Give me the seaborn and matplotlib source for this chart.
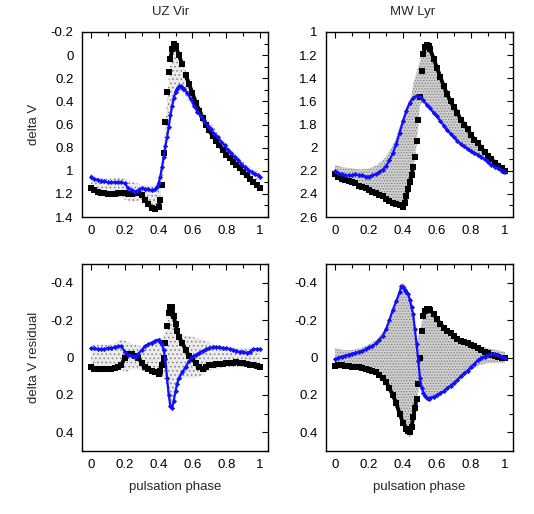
import numpy as np
import pandas as pd
import matplotlib
matplotlib.use("Agg")
import matplotlib.pyplot as plt
from matplotlib.ticker import MultipleLocator, FuncFormatter
import seaborn as sns

# ---------------- data ----------------
titles = ["UZ Vir", "MW Lyr"]
ylabels = ["delta V", "delta V residual"]
xlabel = "pulsation phase"

# UZ Vir light curve, maximum-amplitude (black) Blazhko phase
uz_black_phase = [0.00,0.02,0.04,0.06,0.08,0.10,0.12,0.14,0.16,0.18,0.20,0.22,0.24,0.26,0.28,0.30,0.32,0.34,0.36,0.38,
                  0.40,0.41,0.42,0.43,0.44,0.45,0.46,0.47,0.48,0.49,0.50,0.52,0.54,0.56,0.58,0.60,0.62,0.64,0.66,0.68,
                  0.70,0.72,0.74,0.76,0.78,0.80,0.82,0.84,0.86,0.88,0.90,0.92,0.94,0.96,0.98,1.00]
uz_black_dv = [1.15,1.17,1.18,1.19,1.19,1.20,1.20,1.20,1.19,1.19,1.19,1.20,1.20,1.19,1.19,1.21,1.25,1.29,1.32,1.33,
               1.31,1.25,1.12,0.85,0.58,0.32,0.15,0.03,-0.05,-0.10,-0.08,0.00,0.08,0.17,0.25,0.33,0.41,0.48,0.54,0.60,
               0.65,0.70,0.74,0.78,0.82,0.86,0.89,0.92,0.95,0.98,1.01,1.04,1.07,1.10,1.12,1.15]
# UZ Vir light curve, minimum-amplitude (blue) Blazhko phase
uz_blue_phase = [0.00,0.02,0.04,0.06,0.08,0.10,0.12,0.14,0.16,0.18,0.20,0.22,0.24,0.26,0.28,0.30,0.32,0.34,0.36,0.38,
                 0.39,0.40,0.41,0.42,0.43,0.44,0.45,0.46,0.47,0.48,0.49,0.50,0.51,0.52,0.53,0.54,0.55,0.57,0.59,0.61,
                 0.63,0.65,0.67,0.69,0.71,0.73,0.75,0.77,0.79,0.81,0.83,0.85,0.87,0.89,0.91,0.93,0.95,0.97,0.99,1.00]
uz_blue_dv = [1.05,1.07,1.08,1.09,1.09,1.10,1.10,1.10,1.10,1.10,1.11,1.15,1.17,1.18,1.17,1.15,1.16,1.16,1.17,1.16,
              1.14,1.11,1.05,0.97,0.88,0.79,0.71,0.62,0.52,0.44,0.37,0.32,0.29,0.27,0.27,0.28,0.29,0.33,0.38,0.44,
              0.49,0.53,0.57,0.61,0.64,0.68,0.71,0.75,0.78,0.82,0.85,0.88,0.91,0.94,0.97,0.99,1.01,1.03,1.04,1.05]
# UZ Vir: extent of all other observations (grey cloud)
uz_grey_phase = [0.00,0.05,0.10,0.15,0.20,0.25,0.30,0.35,0.38,0.40,0.42,0.44,0.46,0.48,0.50,0.52,0.55,0.60,0.65,0.70,
                 0.75,0.80,0.85,0.90,0.95,1.00]
uz_grey_top = [1.03,1.06,1.07,1.06,1.07,1.10,1.12,1.13,1.12,1.08,0.95,0.60,0.20,-0.05,-0.08,-0.02,0.10,0.28,0.44,0.57,
               0.67,0.77,0.85,0.92,0.98,1.02]
uz_grey_bot = [1.17,1.21,1.22,1.22,1.25,1.27,1.25,1.30,1.32,1.30,1.15,0.85,0.55,0.40,0.33,0.30,0.33,0.45,0.57,0.69,
               0.79,0.88,0.96,1.04,1.11,1.17]

# MW Lyr light curve
mw_black_phase = [0.00,0.02,0.04,0.06,0.08,0.10,0.12,0.14,0.16,0.18,0.20,0.22,0.24,0.26,0.28,0.30,0.32,0.34,0.36,0.38,
                  0.40,0.41,0.42,0.43,0.44,0.45,0.46,0.47,0.48,0.49,0.50,0.51,0.52,0.53,0.54,0.55,0.56,0.58,0.60,0.62,
                  0.64,0.66,0.68,0.70,0.72,0.74,0.76,0.78,0.80,0.82,0.84,0.86,0.88,0.90,0.92,0.94,0.96,0.98,1.00]
mw_black_dv = [2.23,2.25,2.27,2.28,2.29,2.30,2.31,2.33,2.34,2.35,2.37,2.38,2.39,2.41,2.42,2.44,2.46,2.48,2.49,2.50,
               2.51,2.48,2.42,2.36,2.30,2.24,2.17,2.08,1.94,1.76,1.56,1.34,1.19,1.13,1.11,1.12,1.15,1.23,1.31,1.39,
               1.47,1.54,1.60,1.65,1.70,1.76,1.80,1.84,1.89,1.93,1.96,2.00,2.04,2.07,2.10,2.13,2.16,2.18,2.20]
mw_blue_phase = [0.00,0.02,0.04,0.06,0.08,0.10,0.12,0.14,0.16,0.18,0.20,0.22,0.24,0.26,0.28,0.30,0.32,0.34,0.36,0.38,
                 0.40,0.42,0.44,0.46,0.48,0.50,0.52,0.54,0.56,0.58,0.60,0.62,0.64,0.66,0.68,0.70,0.72,0.74,0.76,0.78,
                 0.80,0.82,0.84,0.86,0.88,0.90,0.92,0.94,0.96,0.98,1.00]
mw_blue_dv = [2.20,2.22,2.23,2.24,2.24,2.24,2.23,2.24,2.24,2.25,2.25,2.24,2.23,2.21,2.19,2.16,2.11,2.05,1.97,1.87,
              1.77,1.68,1.61,1.57,1.55,1.56,1.59,1.63,1.66,1.70,1.73,1.77,1.81,1.85,1.88,1.91,1.94,1.97,1.99,2.01,
              2.03,2.05,2.06,2.08,2.10,2.12,2.15,2.17,2.18,2.20,2.21]
mw_grey_phase = [0.00,0.05,0.10,0.15,0.20,0.25,0.30,0.35,0.40,0.42,0.45,0.46,0.48,0.50,0.52,0.54,0.56,0.60,0.65,0.70,
                 0.75,0.80,0.85,0.90,0.95,1.00]
mw_grey_top = [2.15,2.17,2.18,2.19,2.18,2.15,2.08,1.95,1.74,1.65,1.55,1.45,1.35,1.25,1.12,1.10,1.13,1.29,1.48,1.63,
               1.75,1.86,1.96,2.04,2.11,2.17]
mw_grey_bot = [2.27,2.30,2.32,2.35,2.38,2.42,2.45,2.50,2.53,2.46,2.27,2.20,1.98,1.62,1.62,1.64,1.67,1.75,1.85,1.93,
               2.00,2.05,2.09,2.14,2.19,2.24]

# UZ Vir residuals
uzr_black_phase = [0.00,0.02,0.04,0.06,0.08,0.10,0.12,0.14,0.16,0.18,0.20,0.22,0.24,0.26,0.28,0.30,0.32,0.34,0.36,0.38,
                   0.40,0.41,0.42,0.43,0.44,0.45,0.46,0.47,0.48,0.49,0.50,0.51,0.52,0.54,0.56,0.58,0.60,0.62,0.64,0.66,
                   0.68,0.70,0.72,0.74,0.76,0.78,0.80,0.82,0.84,0.86,0.88,0.90,0.92,0.94,0.96,0.98,1.00]
uzr_black_res = [0.05,0.06,0.06,0.06,0.06,0.06,0.06,0.055,0.05,0.04,0.00,-0.02,-0.02,-0.01,0.00,0.03,0.05,0.06,0.07,0.08,
                 0.09,0.07,0.04,0.00,-0.08,-0.17,-0.24,-0.27,-0.27,-0.22,-0.18,-0.14,-0.11,-0.08,-0.04,-0.01,0.01,0.03,0.05,0.06,
                 0.05,0.04,0.04,0.035,0.035,0.035,0.03,0.03,0.03,0.025,0.03,0.03,0.035,0.04,0.04,0.045,0.05]
uzr_blue_phase = [0.00,0.02,0.04,0.06,0.08,0.10,0.12,0.14,0.16,0.18,0.20,0.22,0.24,0.26,0.28,0.30,0.32,0.34,0.36,0.38,
                  0.40,0.41,0.42,0.43,0.44,0.45,0.46,0.47,0.48,0.49,0.50,0.51,0.52,0.54,0.56,0.58,0.60,0.62,0.64,0.66,
                  0.68,0.70,0.72,0.74,0.76,0.78,0.80,0.82,0.84,0.86,0.88,0.90,0.92,0.94,0.96,0.98,1.00]
uzr_blue_res = [-0.05,-0.05,-0.045,-0.045,-0.045,-0.05,-0.05,-0.055,-0.06,-0.06,-0.03,-0.015,-0.01,-0.005,-0.02,-0.04,-0.06,-0.07,-0.08,-0.09,
                -0.095,-0.085,-0.07,-0.04,0.01,0.11,0.20,0.26,0.27,0.23,0.18,0.14,0.11,0.08,0.05,0.02,-0.005,-0.015,-0.025,-0.035,
                -0.045,-0.05,-0.055,-0.055,-0.055,-0.05,-0.05,-0.045,-0.04,-0.035,-0.03,-0.03,-0.025,-0.03,-0.045,-0.045,-0.045]
uzr_grey_phase = [0.00,0.05,0.10,0.15,0.18,0.20,0.25,0.30,0.35,0.40,0.42,0.44,0.46,0.48,0.50,0.52,0.55,0.60,0.65,0.70,
                  0.75,0.80,0.90,1.00]
uzr_grey_top = [-0.07,-0.07,-0.07,-0.08,-0.10,-0.09,-0.07,-0.06,-0.08,-0.11,-0.10,-0.15,-0.26,-0.25,-0.18,-0.13,-0.12,-0.11,-0.10,-0.08,
                -0.06,-0.06,-0.05,-0.05]
uzr_grey_bot = [0.07,0.08,0.08,0.07,0.06,0.08,0.06,0.07,0.08,0.10,0.10,0.12,0.25,0.25,0.18,0.12,0.11,0.11,0.10,0.07,
                0.06,0.05,0.05,0.05]

# MW Lyr residuals
mwr_black_phase = [0.00,0.02,0.04,0.06,0.08,0.10,0.12,0.14,0.16,0.18,0.20,0.22,0.24,0.26,0.28,0.30,0.32,0.34,0.36,0.38,
                   0.40,0.42,0.43,0.44,0.45,0.46,0.47,0.48,0.49,0.50,0.51,0.52,0.53,0.54,0.55,0.56,0.58,0.60,0.62,0.64,
                   0.66,0.68,0.70,0.72,0.74,0.76,0.78,0.80,0.82,0.84,0.86,0.88,0.90,0.92,0.94,0.96,0.98,1.00]
mwr_black_res = [0.045,0.04,0.04,0.045,0.045,0.05,0.05,0.05,0.055,0.06,0.065,0.07,0.08,0.095,0.11,0.13,0.165,0.20,0.245,0.30,
                 0.35,0.38,0.395,0.40,0.37,0.32,0.27,0.22,0.14,0.00,-0.14,-0.22,-0.25,-0.26,-0.26,-0.255,-0.23,-0.205,-0.18,-0.16,
                 -0.14,-0.13,-0.115,-0.10,-0.09,-0.085,-0.075,-0.065,-0.06,-0.05,-0.04,-0.03,-0.025,-0.015,-0.01,-0.005,0.00,0.00]
mwr_blue_phase = [0.00,0.02,0.04,0.06,0.08,0.10,0.12,0.14,0.16,0.18,0.20,0.22,0.24,0.26,0.28,0.30,0.32,0.34,0.36,0.38,
                  0.39,0.40,0.41,0.42,0.43,0.44,0.45,0.46,0.47,0.48,0.49,0.50,0.51,0.52,0.53,0.54,0.55,0.56,0.58,0.60,
                  0.62,0.64,0.66,0.68,0.70,0.72,0.74,0.76,0.78,0.80,0.82,0.84,0.86,0.88,0.90,0.92,0.94,0.96,0.98,1.00]
mwr_blue_res = [0.01,0.00,-0.005,-0.01,-0.015,-0.02,-0.025,-0.03,-0.035,-0.045,-0.055,-0.06,-0.075,-0.095,-0.115,-0.15,-0.20,-0.255,-0.30,-0.35,
                -0.38,-0.375,-0.36,-0.35,-0.34,-0.31,-0.27,-0.23,-0.15,-0.07,0.02,0.11,0.165,0.19,0.205,0.215,0.22,0.215,0.21,0.20,
                0.19,0.18,0.165,0.15,0.135,0.12,0.10,0.085,0.07,0.05,0.035,0.015,0.00,-0.005,-0.015,-0.02,-0.02,-0.015,-0.005,0.00]
mwr_grey_phase = [0.00,0.05,0.10,0.15,0.20,0.25,0.30,0.35,0.38,0.40,0.42,0.44,0.46,0.48,0.50,0.52,0.55,0.60,0.65,0.70,
                  0.75,0.80,0.85,0.90,0.95,1.00]
mwr_grey_top = [-0.05,-0.04,-0.04,-0.05,-0.07,-0.10,-0.16,-0.28,-0.36,-0.40,-0.38,-0.32,-0.22,-0.08,-0.15,-0.22,-0.27,-0.21,-0.16,-0.12,
                -0.09,-0.07,-0.06,-0.05,-0.04,-0.03]
mwr_grey_bot = [0.06,0.06,0.06,0.07,0.08,0.10,0.15,0.24,0.30,0.36,0.40,0.43,0.34,0.22,0.15,0.20,0.22,0.21,0.18,0.15,
                0.11,0.07,0.04,0.03,0.03,0.03]

# ---------------- figure ----------------
sns.set_style("white")
plt.rcParams["font.family"] = ["Liberation Sans", "DejaVu Sans"]
plt.rcParams["hatch.linewidth"] = 0.6

fig = plt.figure(figsize=(5.34, 5.14), dpi=100)
W, H = 534.0, 514.0
def add_ax(x0, y0, x1, y1):
    return fig.add_axes([x0 / W, 1 - y1 / H, (x1 - x0) / W, (y1 - y0) / H])

axes = [[add_ax(82, 32, 268, 217), add_ax(326, 32, 513, 217)],
        [add_ax(82, 264, 268, 451), add_ax(326, 264, 513, 451)]]

panels = [
    (axes[0][0], uz_grey_phase, uz_grey_top, uz_grey_bot, uz_black_phase, uz_black_dv, uz_blue_phase, uz_blue_dv, (1.4, -0.2)),
    (axes[0][1], mw_grey_phase, mw_grey_top, mw_grey_bot, mw_black_phase, mw_black_dv, mw_blue_phase, mw_blue_dv, (2.6, 1.0)),
    (axes[1][0], uzr_grey_phase, uzr_grey_top, uzr_grey_bot, uzr_black_phase, uzr_black_res, uzr_blue_phase, uzr_blue_res, (0.5, -0.5)),
    (axes[1][1], mwr_grey_phase, mwr_grey_top, mwr_grey_bot, mwr_black_phase, mwr_black_res, mwr_blue_phase, mwr_blue_res, (0.5, -0.5)),
]

def fmt(v, p):
    if abs(v) < 1e-9:
        return "0"
    return f"{round(v, 4):g}"

def with_segments(ph, vals, thr):
    # start a new run wherever consecutive observations are far apart (sparse steep branch)
    v = np.asarray(vals, dtype=float)
    jumps = np.concatenate([[False], np.abs(np.diff(v)) > thr])
    return pd.DataFrame({"phase": ph, "val": vals, "seg": np.cumsum(jumps)})

for i, (ax, gp, gt, gb, kp, kv, bp, bv, ylim) in enumerate(panels):
    dense = i in (1, 3)
    span = abs(ylim[0] - ylim[1])
    ax.fill_between(gp, gt, gb, facecolor="#d0d0d0" if dense else "#ebebeb",
                    edgecolor="#808080", hatch="......" if dense else "....",
                    linewidth=0, zorder=1)
    dk = with_segments(kp, kv, 0.055 * span)
    db = with_segments(bp, bv, 0.11 * span)
    sns.lineplot(data=dk, x="phase", y="val", units="seg", ax=ax, sort=False, estimator=None,
                 color="black", linewidth=2.8, zorder=3)
    sns.scatterplot(data=dk, x="phase", y="val", ax=ax, marker="s", s=13,
                    color="black", linewidth=0, zorder=3)
    sns.lineplot(data=db, x="phase", y="val", units="seg", ax=ax, sort=False, estimator=None,
                 color="#1010ff", linewidth=1.6, zorder=4)
    sns.scatterplot(data=db, x="phase", y="val", ax=ax, marker="D", s=7,
                    color="#1010ff", linewidth=0, zorder=4)
    ax.set_xlim(-0.053, 1.047)
    ax.set_ylim(*ylim)
    ax.xaxis.set_major_locator(MultipleLocator(0.2))
    ax.xaxis.set_minor_locator(MultipleLocator(0.1))
    ax.yaxis.set_major_locator(MultipleLocator(0.2))
    ax.yaxis.set_minor_locator(MultipleLocator(0.1))
    ax.xaxis.set_major_formatter(FuncFormatter(fmt))
    ax.yaxis.set_major_formatter(FuncFormatter(fmt))
    ax.tick_params(which="both", direction="in", top=True, right=True,
                   labelsize=9.5, colors="black", width=0.8)
    ax.tick_params(which="major", length=4.5, pad=6)
    ax.tick_params(which="minor", length=3)
    for sp in ax.spines.values():
        sp.set_visible(True)
        sp.set_color("black")
        sp.set_linewidth(1.0)
    ax.set_xlabel("")
    ax.set_ylabel("")

axes[0][0].set_title(titles[0], fontsize=9.5, pad=12, x=0.478)
axes[0][1].set_title(titles[1], fontsize=9.5, pad=12, x=0.463)
axes[0][0].set_ylabel(ylabels[0], fontsize=9.5, labelpad=8)
axes[1][0].set_ylabel(ylabels[1], fontsize=9.5, labelpad=8)
axes[1][0].set_xlabel(xlabel, fontsize=9.5, labelpad=7)
axes[1][1].set_xlabel(xlabel, fontsize=9.5, labelpad=7)

fig.savefig("out.png", dpi=100)
